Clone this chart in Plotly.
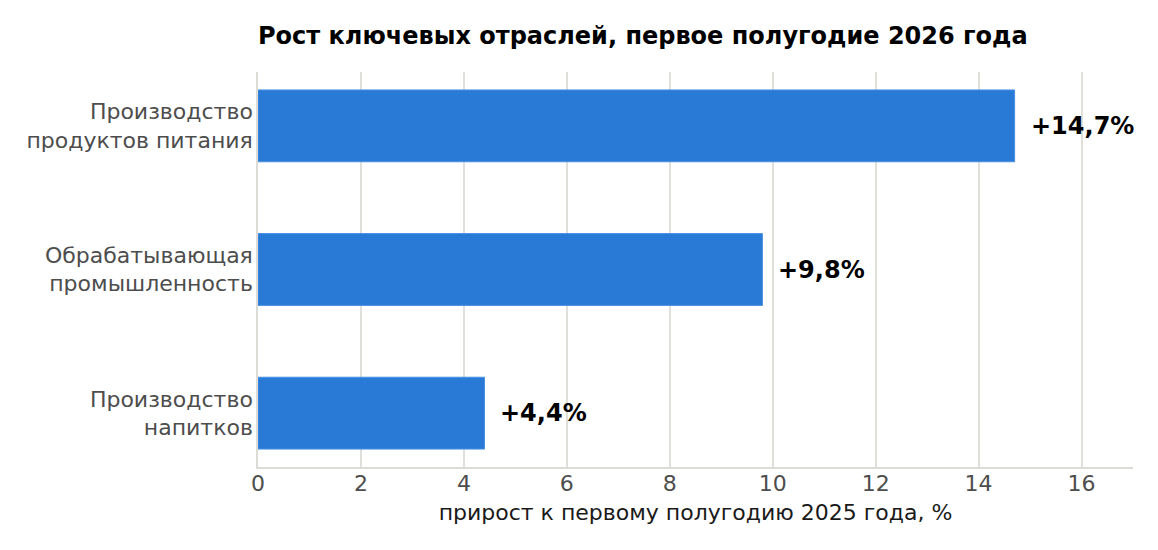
import plotly.graph_objects as go

categories = ["Производство<br>продуктов питания", "Обрабатывающая<br>промышленность", "Производство<br>напитков"]
values = [14.7, 9.8, 4.4]
labels = ["+14,7%", "+9,8%", "+4,4%"]
x_ticks = [0, 2, 4, 6, 8, 10, 12, 14, 16]

FONT = "DejaVu Sans"

fig = go.Figure()
fig.add_trace(go.Bar(
    y=categories, x=values, orientation="h", width=0.5,
    marker=dict(color="#2979d6", line=dict(color="#4a90e2", width=1)),
    hoverinfo="skip",
))

for c, v, t in zip(categories, values, labels):
    fig.add_annotation(x=v, y=c, text="<b>" + t + "</b>", showarrow=False,
                       xanchor="left", yanchor="middle", xshift=14,
                       font=dict(family=FONT, size=24, color="#000000"))

fig.update_layout(
    width=1150, height=542,
    margin=dict(l=250, r=25, t=64, b=83),
    paper_bgcolor="white", plot_bgcolor="white",
    showlegend=False,
    title=dict(text="<b>Рост ключевых отраслей, первое полугодие 2026 года</b>",
               x=0, xanchor="left", xref="paper",
               y=1 - 28/542, yanchor="middle",
               font=dict(family=FONT, size=24, color="#000000")),
    font=dict(family=FONT),
)
fig.update_xaxes(
    range=[0, 17], tickvals=x_ticks, ticktext=[str(v) for v in x_ticks],
    showgrid=True, gridcolor="#e0dfda", gridwidth=1.5,
    showline=True, linecolor="#dcdbd6", linewidth=1.5,
    zeroline=False, ticks="", ticklabelstandoff=-4,
    tickfont=dict(family=FONT, size=22, color="#4d4d4d"),
    title=dict(text="прирост к первому полугодию 2025 года, %", standoff=9,
               font=dict(family=FONT, size=22, color="#1a1a1a")),
)
fig.update_yaxes(
    type="category", categoryorder="array", categoryarray=categories,
    range=[2.375, -0.375],
    showgrid=False, showline=True, linecolor="#dcdbd6", linewidth=1.5,
    zeroline=False, ticks="", ticklabelstandoff=-1,
    tickfont=dict(family=FONT, size=22, color="#4d4d4d"),
)

fig.write_html("out.html")
